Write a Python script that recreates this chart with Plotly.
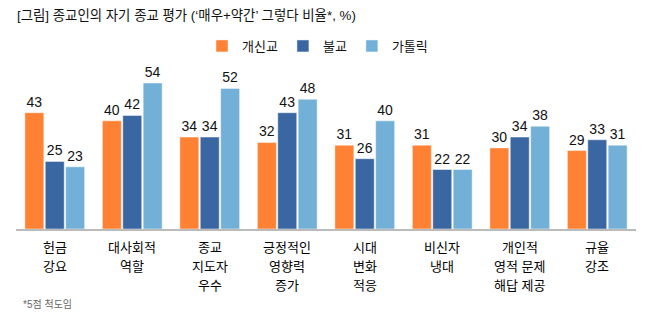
import plotly.graph_objects as go

categories = ["헌금\n강요", "대사회적\n역할", "종교\n지도자\n우수", "긍정적인\n영향력\n증가",
              "시대\n변화\n적응", "비신자\n냉대", "개인적\n영적 문제\n해답 제공", "규율\n강조"]
series_names = ["개신교", "불교", "가톨릭"]
protestant = [43, 40, 34, 32, 31, 31, 30, 29]
buddhist = [25, 42, 34, 43, 26, 22, 34, 33]
catholic = [23, 54, 52, 48, 40, 22, 38, 31]
colors = ["#FF8133", "#3A66A1", "#73B0D8"]

title_text = "[그림] 종교인의 자기 종교 평가 (‘매우+약간’ 그렇다 비율*, %)"
footnote = "*5점 척도임"

FONT = "Liberation Sans, Noto Sans CJK KR"
W, H = 654, 324
l, r, t, b = 16, 18, 70, 95
plot_h = H - t - b
plot_w = W - l - r

fig = go.Figure()
for name, vals, col in zip(series_names, [protestant, buddhist, catholic], colors):
    fig.add_trace(go.Bar(
        x=categories, y=vals, name=name,
        marker=dict(color=col, line=dict(color="rgba(255,255,255,0.6)", width=0.8)),
        text=[str(v) for v in vals], textposition="outside",
        textfont=dict(family=FONT, size=14, color="#111111"),
        cliponaxis=False,
    ))

annotations = []
for cat in categories:
    for i, line in enumerate(cat.split("\n")):
        annotations.append(dict(
            x=cat, y=0, xref="x", yref="y", text=line, showarrow=False,
            yshift=-(18 + 19 * i), yanchor="middle", xanchor="center",
            font=dict(family=FONT, size=13, color="#000000"),
        ))
annotations.append(dict(
    x=(21 - l) / plot_w, y=(H - b - 304) / plot_h, xref="paper", yref="paper",
    text=footnote, showarrow=False, xanchor="left", yanchor="middle",
    font=dict(family=FONT, size=10, color="#666666"),
))

fig.update_layout(
    width=W, height=H,
    margin=dict(l=l, r=r, t=t, b=b, autoexpand=False),
    paper_bgcolor="white", plot_bgcolor="white",
    title=dict(text=title_text, x=17 / W, xref="container", xanchor="left",
               y=1 - 15 / H, yref="container", yanchor="middle",
               font=dict(family=FONT, size=13.4, color="#111111")),
    legend=dict(orientation="h", x=202 / W, xref="container", xanchor="left",
                y=1 - 46 / H, yref="container", yanchor="middle",
                font=dict(family=FONT, size=13, color="#111111"),
                traceorder="normal"),
    barmode="group", bargap=0.21, bargroupgap=0.07,
    xaxis=dict(showticklabels=False, ticks="", showline=True, linecolor="#BBBBBB",
               linewidth=1.5, showgrid=False, zeroline=False),
    yaxis=dict(visible=False, range=[0, 58.8], showgrid=False, zeroline=False),
    annotations=annotations,
    font=dict(family=FONT),
)

fig.write_html("out.html")
